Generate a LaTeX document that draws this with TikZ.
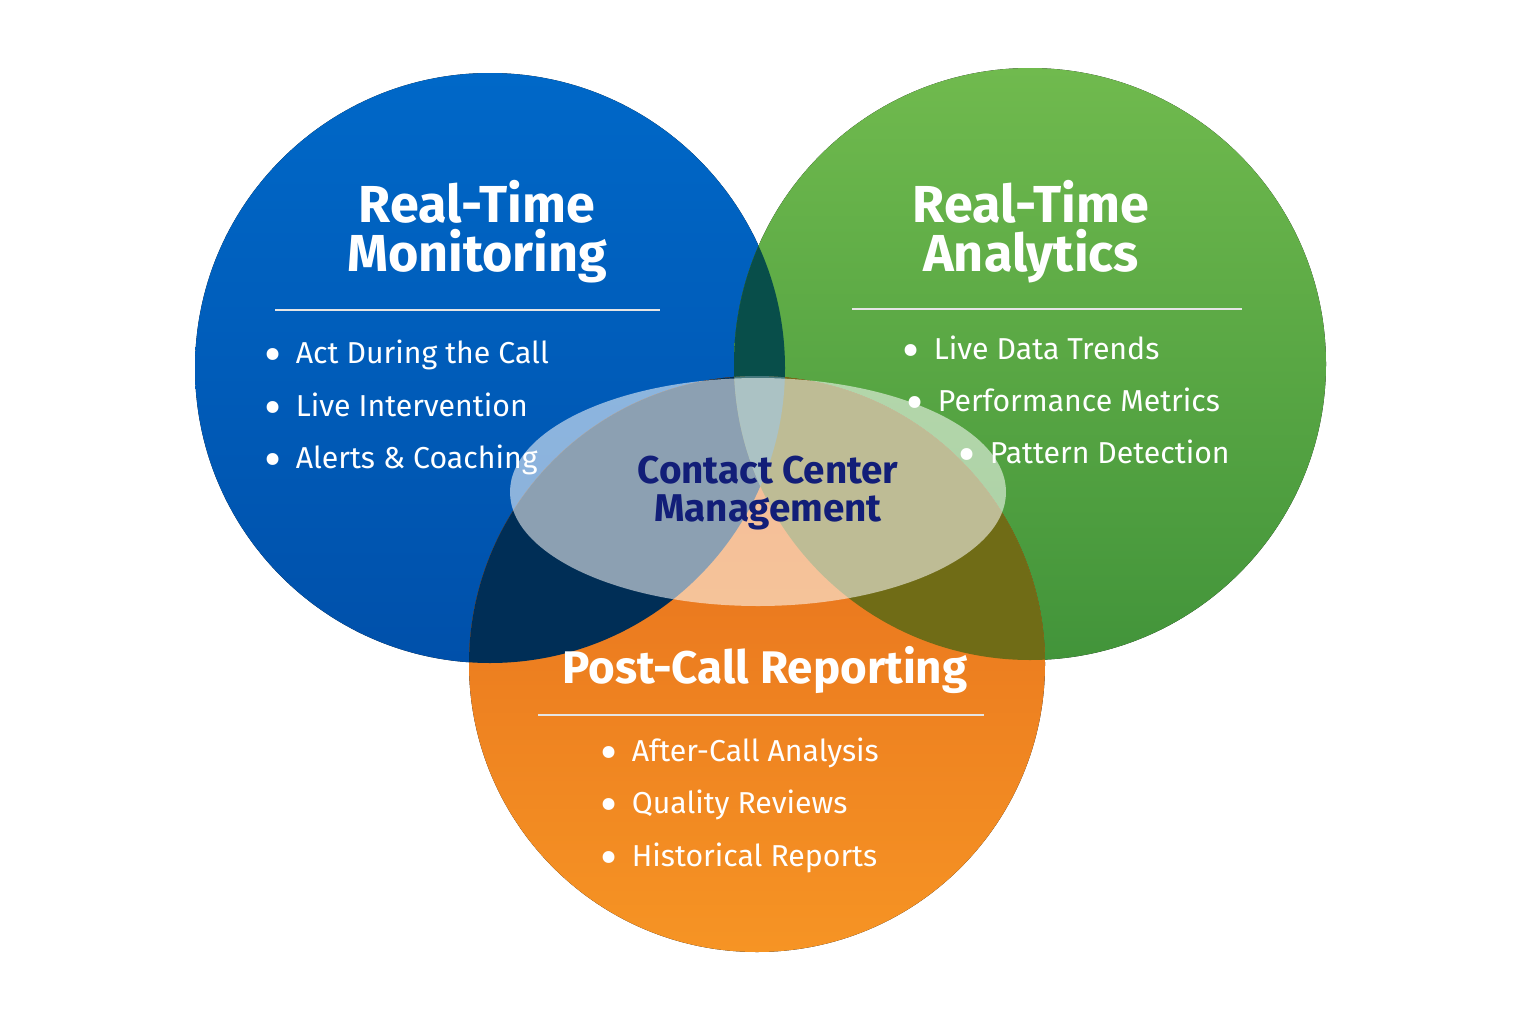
\documentclass[tikz,border=0pt]{standalone}
\usepackage{fontspec}
\setmainfont{Fira Sans}
\usepackage{xcolor}
\usetikzlibrary{positioning,calc}
\definecolor{bluetop}{RGB}{0,104,200}
\definecolor{bluebot}{RGB}{0,80,170}
\definecolor{greentop}{RGB}{112,186,78}
\definecolor{greenbot}{RGB}{66,148,58}
\definecolor{orangetop}{RGB}{228,106,28}
\definecolor{orangebot}{RGB}{246,148,36}
\definecolor{navytext}{RGB}{18,30,120}
\newcommand{\itm}{{\fontsize{15}{15}\selectfont\raisebox{-2.6pt}{\textbullet}}\hspace{4pt}}

\begin{document}
\begin{tikzpicture}[x=0.01cm, y=-0.01cm,
    title_text/.style={font=\bfseries\fontsize{14.8}{17}\selectfont, text=white, align=center},
    item_text/.style={font=\fontsize{8.6}{10}\selectfont, text=white, anchor=west, inner sep=0pt},
    rule/.style={draw=white!80!gray, line width=0.5pt}
  ]
  \useasboundingbox[fill=white] (0,0) rectangle (1536,1024);

  % --- circles ---
  \fill[top color=bluetop, bottom color=bluebot] (490,368) circle (295);
  \fill[top color=greentop, bottom color=greenbot] (1030,364) circle (296);
  \fill[top color=orangetop, bottom color=orangebot] (757,664) circle (288);

  % --- overlaps ---
  \begin{scope}
    \clip (490,368) circle (295);
    \fill[fill={rgb,255:red,8;green,78;blue,74}] (1030,364) circle (296);
    \fill[fill={rgb,255:red,0;green,46;blue,86}] (757,664) circle (288);
  \end{scope}
  \begin{scope}
    \clip (1030,364) circle (296);
    \fill[fill={rgb,255:red,112;green,108;blue,22}] (757,664) circle (288);
    \clip (490,368) circle (295);
    \fill[fill={rgb,255:red,70;green,120;blue,125}] (757,664) circle (288);
  \end{scope}

  % --- centre glow ---
  \fill[white, opacity=0.55] (758,492) ellipse (248 and 114);

  % --- titles ---
  \node[title_text] (mon) at (477,232) {Real-Time\\[-3pt]Monitoring};
  \node[title_text] (ana) at (1031,232) {Real-Time\\[-3pt]Analytics};
  \node[title_text, font=\bfseries\fontsize{13}{16}\selectfont] (rep) at (765,670) {Post-Call Reporting};
  \node[font=\bfseries\fontsize{11}{13}\selectfont, text=navytext, align=center] (ccm) at (768,493)
    {Contact Center\\[-2pt]Management};

  % --- rules ---
  \draw[rule] (275,310) -- (660,310);
  \draw[rule] (852,309) -- (1242,309);
  \draw[rule] (538,715) -- (984,715);

  % --- items ---
  \node[item_text] (m1) at (264,356) {\itm Act During the Call};
  \node[item_text] (m2) at (264,409) {\itm Live Intervention};
  \node[item_text] (m3) at (264,461) {\itm Alerts \& Coaching};

  \node[item_text] (a1) at (902,352) {\itm Live Data Trends};
  \node[item_text] (a2) at (906,404) {\itm Performance Metrics};
  \node[item_text] (a3) at (958,456) {\itm Pattern Detection};

  \node[item_text] (r1) at (600,754) {\itm After-Call Analysis};
  \node[item_text] (r2) at (600,806) {\itm Quality Reviews};
  \node[item_text] (r3) at (600,859) {\itm Historical Reports};
\end{tikzpicture}
\end{document}
